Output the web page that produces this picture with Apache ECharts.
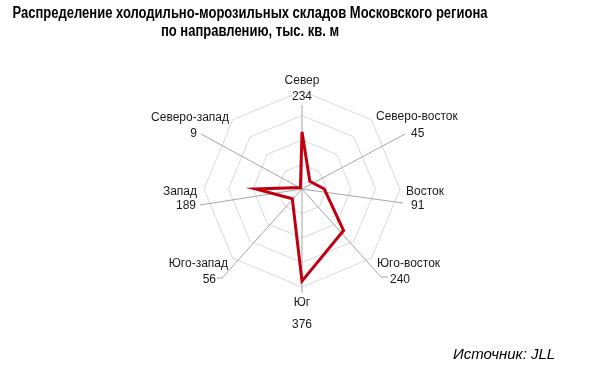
<!DOCTYPE html>
<html><head><meta charset="utf-8">
<script src="https://cdn.jsdelivr.net/npm/echarts@6/dist/echarts.min.js"></script>
<style>html,body{margin:0;padding:0;background:#fff}#c{width:600px;height:368px}</style>
</head><body><div id="c"></div>
<script>
// Data (display order for ECharts radar: counter-clockwise from top)
var categories = ['Север', 'Северо-запад', 'Запад', 'Юго-запад', 'Юг', 'Юго-восток', 'Восток', 'Северо-восток'];
var values = [234, 9, 189, 56, 376, 240, 91, 45];
var titleLines = ['Распределение холодильно-морозильных складов Московского региона', 'по направлению, тыс. кв. м'];
var sourceText = 'Источник: JLL';

// Layout (label anchors & leader line ends, pixels)
var CX = 302, CY = 189, R = 98;
var labelLayout = [
  {nx: 302, ny: 81, vx: 302, vy: 97, align: 'center', line: [[302, 105]]},
  {nx: 229, ny: 118, vx: 197, vy: 134, align: 'right', line: [[201, 134]]},
  {nx: 197, ny: 192, vx: 196, vy: 206, align: 'right', line: [[200, 205]]},
  {nx: 228, ny: 264, vx: 216, vy: 280, align: 'right', line: [[222, 278], [217, 278]]},
  {nx: 302, ny: 303, vx: 302, vy: 325, align: 'center', line: [[302, 293]]},
  {nx: 377, ny: 264, vx: 390, vy: 280, align: 'left', line: [[381, 277], [388, 277]]},
  {nx: 406, ny: 192, vx: 411, vy: 206, align: 'left', line: [[403, 203]]},
  {nx: 376, ny: 117, vx: 411, vy: 134, align: 'left', line: [[405, 134]]}
];

var FONT = '"Liberation Sans", Arial, sans-serif';
var TFONT_SPEC = 'bold 16px "Liberation Sans", Arial, sans-serif';
var TITLE_WIDTH = 475;
var ctx = document.createElement('canvas').getContext('2d');
ctx.font = TFONT_SPEC;
var titleScale = TITLE_WIDTH / ctx.measureText(titleLines[0]).width;

var graphics = [];
labelLayout.forEach(function (L, i) {
  graphics.push({
    type: 'polyline', z: 1, silent: true,
    shape: {points: [[CX, CY]].concat(L.line)},
    style: {stroke: '#a6a6a6', lineWidth: 1, fill: null}
  });
  graphics.push({
    type: 'text', z: 5, x: L.nx, y: L.ny,
    style: {text: categories[i], fill: '#1a1a1a', font: '12px ' + FONT, textAlign: L.align, textVerticalAlign: 'middle'}
  });
  graphics.push({
    type: 'text', z: 5, x: L.vx, y: L.vy,
    style: {text: String(values[i]), fill: '#1a1a1a', font: '12px ' + FONT, textAlign: L.align, textVerticalAlign: 'middle'}
  });
});
[14, 32].forEach(function (y, i) {
  graphics.push({
    type: 'text', z: 5, x: 250, y: y, scaleX: titleScale,
    style: {text: titleLines[i], fill: '#000', font: TFONT_SPEC, textAlign: 'center', textVerticalAlign: 'middle'}
  });
});
graphics.push({
  type: 'text', z: 5, x: 453, y: 355,
  style: {text: sourceText, fill: '#000', font: 'italic 15px ' + FONT, textAlign: 'left', textVerticalAlign: 'middle'}
});

var chart = echarts.init(document.getElementById('c'), null, {renderer: 'canvas'});
chart.setOption({
  animation: false,
  backgroundColor: '#fff',
  radar: {
    center: [CX, CY],
    radius: R,
    startAngle: 90,
    splitNumber: 4,
    shape: 'polygon',
    indicator: categories.map(function (c) { return {name: c, min: 0, max: 400}; }),
    axisName: {show: false},
    axisLine: {show: false},
    axisTick: {show: false},
    axisLabel: {show: false},
    splitArea: {show: false},
    splitLine: {lineStyle: {color: '#d9d9d9', width: 1}}
  },
  series: [{
    type: 'radar',
    z: 3,
    symbol: 'none',
    lineStyle: {color: '#c00010', width: 3, join: 'miter'},
    data: [{value: values, name: 'Площадь'}]
  }],
  graphic: graphics
});
</script>
</body></html>
